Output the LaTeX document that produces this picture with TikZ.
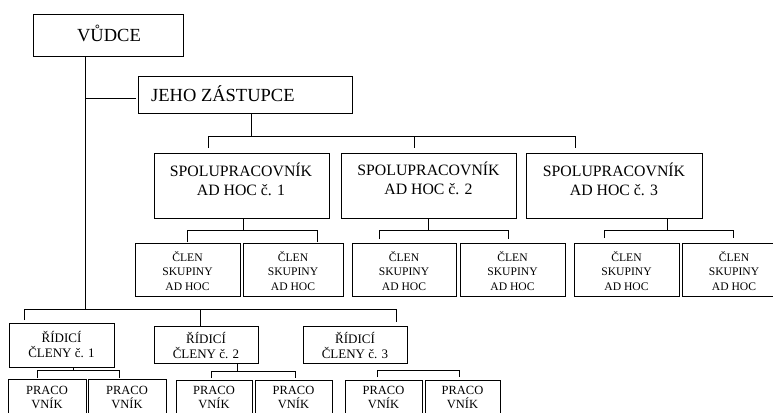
\documentclass[tikz,border=0pt]{standalone}
\usepackage{fontspec}
\setmainfont{Liberation Serif}
\usetikzlibrary{calc}
\tikzset{
  box/.style={draw=black, line width=0.8pt, inner sep=0pt, rectangle},
  conn/.style={draw=black, line width=0.8pt},
  txt/.style={inner sep=0pt, align=center},
  fBig/.style={txt, font=\fontsize{18.5}{22}\selectfont},
  fSpol/.style={txt, font=\fontsize{15.8}{19}\selectfont},
  fClen/.style={txt, font=\fontsize{11.6}{14.5}\selectfont},
  fRid/.style={txt, font=\fontsize{13}{15}\selectfont},
  fPrac/.style={txt, font=\fontsize{12.5}{14.5}\selectfont},
}
\newcommand{\mybox}[5]{\node[box, anchor=north west, minimum width={(#4-#2)*1pt}, minimum height={(#5-#3)*1pt}] (#1) at (#2,#3) {};}
\begin{document}
\begin{tikzpicture}[x=1pt,y=-1pt]
\useasboundingbox (0,0) rectangle (773,412);
\clip (0,0) rectangle (773,412);
% boxes
\mybox{V}{33}{14}{183}{56}
\mybox{J}{138}{76}{352}{113}
\mybox{S1}{154}{153}{329}{218}
\mybox{S2}{341}{153}{516}{218}
\mybox{S3}{526}{153}{702}{218}
\mybox{Ca}{135}{243}{240}{296}
\mybox{Cb}{243}{243}{343}{296}
\mybox{Cc}{352}{243}{456}{296}
\mybox{Cd}{460}{243}{565}{296}
\mybox{Ce}{574}{243}{679}{296}
\mybox{Cf}{682}{243}{786}{296}
\mybox{R1}{9}{323}{114}{367}
\mybox{R2}{154}{326}{258}{363}
\mybox{R3}{303}{326}{407}{363}
\mybox{Pa}{8}{379}{86}{430}
\mybox{Pb}{88}{379}{166}{430}
\mybox{Pc}{176}{380}{252}{430}
\mybox{Pd}{255}{380}{332}{430}
\mybox{Pe}{345}{380}{422}{430}
\mybox{Pf}{425}{380}{500}{430}
% texts
\node[fBig] (tV) at (109,33) {VŮDCE};
\node[fBig, anchor=west] (tJ) at (151,94) {JEHO ZÁSTUPCE};
\node[fSpol] (tS1) at (241,179) {SPOLUPRACOVNÍK\\AD HOC č. 1};
\node[fSpol] (tS2) at (428.5,178) {SPOLUPRACOVNÍK\\AD HOC č. 2};
\node[fSpol] (tS3) at (614,179) {SPOLUPRACOVNÍK\\AD HOC č. 3};
\foreach \n/\x in {a/187.5,b/293,c/404,d/512.5,e/626.5,f/734}{
  \node[fClen] (tC\n) at (\x,271) {ČLEN\\SKUPINY\\AD HOC};
}
\node[fRid] (tR1) at (61.5,344.5) {ŘÍDICÍ\\ČLENY č. 1};
\node[fRid] (tR2) at (206,345.5) {ŘÍDICÍ\\ČLENY č. 2};
\node[fRid] (tR3) at (355,345.5) {ŘÍDICÍ\\ČLENY č. 3};
\foreach \n/\x in {a/47,b/127,c/214,d/293.5,e/383.5,f/462.5}{
  \node[fPrac] (tP\n) at (\x,397.5) {PRACO\\VNÍK};
}
% coordinates
\coordinate (mx) at (85,0);
\coordinate (jn) at (85,98);
\coordinate (bm) at (85,309);
\coordinate (tb) at (251,136);
\coordinate (tbL) at (208,136);
\coordinate (tbM) at (414,136);
\coordinate (tbR) at (575,136);
\coordinate (s1v) at (243,230);
\coordinate (s1L) at (187,230);
\coordinate (s1R) at (317,230);
\coordinate (s2v) at (428,230);
\coordinate (s2L) at (379,230);
\coordinate (s2R) at (508,230);
\coordinate (s3v) at (667,230);
\coordinate (s3L) at (604,230);
\coordinate (s3R) at (733,230);
\coordinate (bL) at (24,309);
\coordinate (bM) at (200,309);
\coordinate (bR) at (396,309);
\coordinate (r1v) at (73,370);
\coordinate (r1L) at (37,370);
\coordinate (r1R) at (119,370);
\coordinate (r2v) at (237,371);
\coordinate (r2L) at (211,371);
\coordinate (r2R) at (295,371);
\coordinate (r3L) at (377,370);
\coordinate (r3R) at (459,370);
% connectors
\draw[conn] (V.south -| mx) -- (bm);
\draw[conn, shorten >=2pt] (jn) -- (J.west |- jn);
\draw[conn] (J.south -| tb) -- (tb);
\draw[conn] ($(tbL |- S1.north)+(0,-5)$) -- (tbL) -- (tbR) -- ($(tbR |- S3.north)+(0,-5)$);
\draw[conn] (tbM) -- ($(tbM |- S2.north)+(0,-5)$);
\draw[conn] (S1.south -| s1v) -- (s1v);
\draw[conn] ($(s1L |- Ca.north)+(0,-1)$) -- (s1L) -- (s1R) -- ($(s1R |- Cb.north)+(0,-1)$);
\draw[conn] (S2.south -| s2v) -- (s2v);
\draw[conn] ($(s2L |- Cc.north)+(0,-4)$) -- (s2L) -- (s2R) -- ($(s2R |- Cd.north)+(0,-4)$);
\draw[conn] (S3.south -| s3v) -- (s3v);
\draw[conn] ($(s3L |- Ce.north)+(0,-5)$) -- (s3L) -- (s3R) -- ($(s3R |- Cf.north)+(0,-5)$);
\draw[conn] ($(bL |- R1.north)+(0,-3)$) -- (bL) -- (bR) -- ($(bR |- R3.north)+(0,-4)$);
\draw[conn] (bM) -- (bM |- R2.north);
\draw[conn] (R1.south -| r1v) -- (r1v);
\draw[conn] ($(r1L |- Pa.north)+(0,-1)$) -- (r1L) -- (r1R) -- ($(r1R |- Pb.north)+(0,-1)$);
\draw[conn] (R2.south -| r2v) -- (r2v);
\draw[conn] ($(r2L |- Pc.north)+(0,-2)$) -- (r2L) -- (r2R) -- ($(r2R |- Pd.north)+(0,-2)$);
\draw[conn] ($(r3L |- Pe.north)+(0,-3)$) -- (r3L) -- (r3R) -- ($(r3R |- Pf.north)+(0,-3)$);
\end{tikzpicture}
\end{document}
